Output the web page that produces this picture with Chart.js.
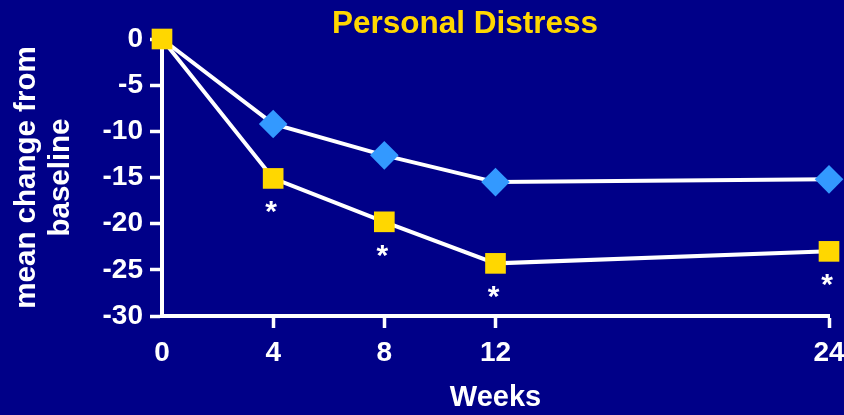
<!DOCTYPE html>
<html>
<head>
<meta charset="utf-8">
<title>Personal Distress</title>
<script src="https://cdn.jsdelivr.net/npm/chart.js@4/dist/chart.umd.min.js"></script>
<style>
  html, body { margin: 0; padding: 0; background: #000088; }
  #wrap { width: 844px; height: 415px; position: relative; }
</style>
</head>
<body>
<div id="wrap"><canvas id="chart" width="844" height="415"></canvas></div>
<script>
// Weeks of follow-up and mean change from baseline for each treatment arm
const weeks = [0, 4, 8, 12, 24];
const blueArm = [0, -9.2, -12.6, -15.5, -15.2];
const yellowArm = [0, -15.1, -19.8, -24.3, -23.0];
// Visits where the yellow arm differs significantly (marked with *)
const significant = [false, true, true, true, true];
const yTicks = [0, -5, -10, -15, -20, -25, -30];

const FONT = '"Liberation Sans", Arial, Helvetica, sans-serif';
const GOLD = '#FFD700';
const SKY = '#3399FF';
const WHITE = '#FFFFFF';

const toPoints = (vals) => weeks.map((w, i) => ({ x: w, y: vals[i] }));

// Title drawn slightly right of the canvas centre
const titlePlugin = {
  id: 'slideTitle',
  afterDraw(chart) {
    const ctx = chart.ctx;
    ctx.save();
    ctx.font = 'bold 31.5px ' + FONT;
    ctx.fillStyle = GOLD;
    ctx.textAlign = 'center';
    ctx.textBaseline = 'alphabetic';
    ctx.fillText('Personal Distress', 465, 33);
    ctx.restore();
  }
};

// Asterisks under the significant yellow points
const starPlugin = {
  id: 'sigStars',
  afterDatasetsDraw(chart) {
    const meta = chart.getDatasetMeta(0);
    const ctx = chart.ctx;
    ctx.save();
    ctx.font = 'bold 30px ' + FONT;
    ctx.fillStyle = WHITE;
    ctx.textAlign = 'center';
    ctx.textBaseline = 'alphabetic';
    meta.data.forEach((pt, i) => {
      if (!significant[i]) return;
      ctx.fillText('*', pt.x - 2, pt.y + 43);
    });
    ctx.restore();
  }
};

new Chart(document.getElementById('chart'), {
  type: 'line',
  data: {
    datasets: [
      {
        label: 'Yellow arm',
        data: toPoints(yellowArm),
        borderColor: WHITE,
        borderWidth: 4,
        pointStyle: 'rect',
        pointRadius: 14.6,
        pointBackgroundColor: GOLD,
        pointBorderColor: GOLD,
        pointBorderWidth: 0,
        tension: 0
      },
      {
        label: 'Blue arm',
        data: toPoints(blueArm),
        borderColor: WHITE,
        borderWidth: 4,
        pointStyle: 'rectRot',
        pointRadius: (c) => (c.dataIndex === 0 ? 0 : 14.3),
        pointBackgroundColor: SKY,
        pointBorderColor: SKY,
        pointBorderWidth: 0,
        tension: 0
      }
    ]
  },
  options: {
    responsive: false,
    animation: false,
    clip: false,
    layout: { padding: { top: 39, right: 15, bottom: 0, left: 0 } },
    plugins: {
      legend: { display: false },
      tooltip: { enabled: false },
      title: { display: false }
    },
    scales: {
      x: {
        type: 'linear',
        min: 0,
        max: 24,
        afterBuildTicks: (scale) => { scale.ticks = weeks.map((v) => ({ value: v })); },
        afterFit: (scale) => {
          scale.height = 99;
          scale.paddingLeft = 0;
          scale.paddingRight = 0;
        },
        grid: {
          drawOnChartArea: false,
          drawTicks: true,
          tickLength: 12,
          tickWidth: 3.5,
          tickColor: (c) => (c.tick && c.tick.value === 0 ? 'rgba(0,0,0,0)' : WHITE)
        },
        border: { display: true, color: WHITE, width: 4 },
        ticks: {
          color: WHITE,
          padding: 8,
          font: { family: FONT, size: 28, weight: 'bold' },
          maxRotation: 0,
          autoSkip: false
        },
        title: {
          display: true,
          text: 'Weeks',
          color: WHITE,
          font: { family: FONT, size: 29, weight: 'bold', lineHeight: 1.2 },
          padding: { top: 0, bottom: 0 }
        }
      },
      y: {
        min: -30,
        max: 0,
        afterBuildTicks: (scale) => { scale.ticks = yTicks.map((v) => ({ value: v })); },
        afterFit: (scale) => { scale.width = 162; },
        grid: {
          drawOnChartArea: false,
          drawTicks: true,
          tickLength: 12,
          tickWidth: 3.5,
          tickColor: WHITE
        },
        border: { display: true, color: WHITE, width: 4 },
        ticks: {
          color: WHITE,
          padding: 7,
          font: { family: FONT, size: 28, weight: 'bold' }
        },
        title: {
          display: true,
          text: ['mean change from', 'baseline'],
          color: WHITE,
          font: { family: FONT, size: 29.5, weight: 'bold', lineHeight: 1.15 },
          padding: { top: 10, bottom: 0 }
        }
      }
    }
  },
  plugins: [titlePlugin, starPlugin]
});
</script>
</body>
</html>
